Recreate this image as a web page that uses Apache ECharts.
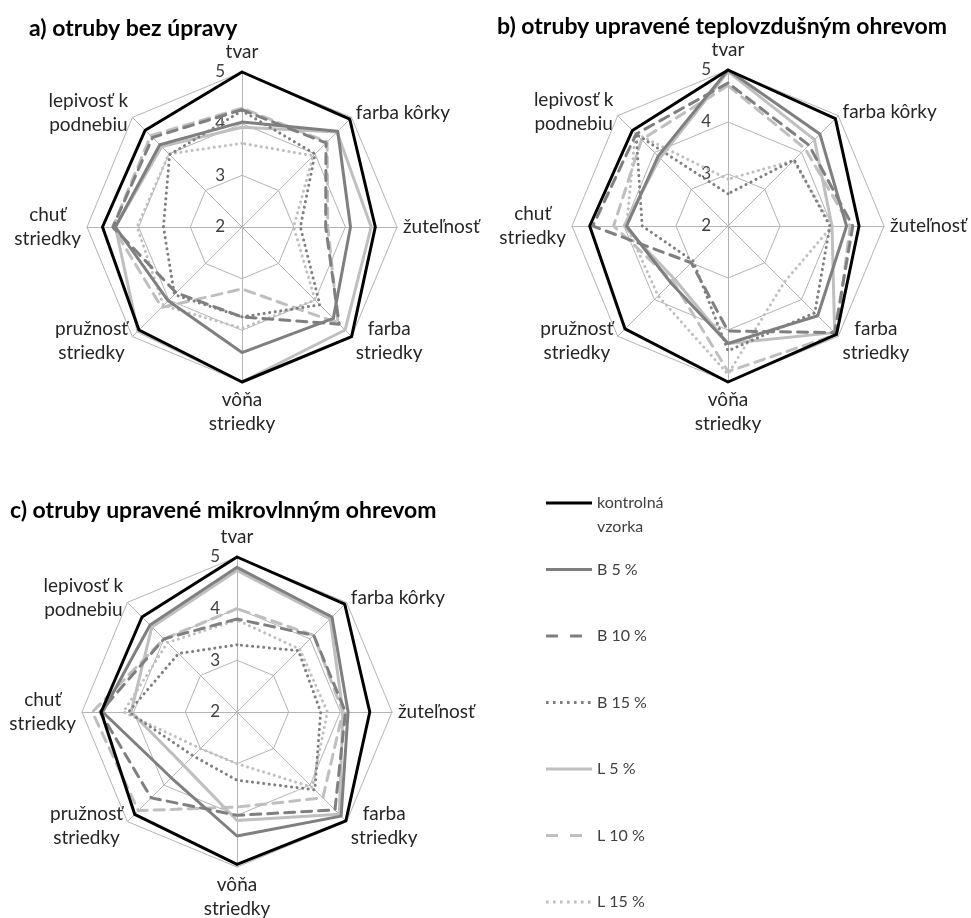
<!DOCTYPE html>
<html>
<head>
<meta charset="utf-8">
<script src="https://cdn.jsdelivr.net/npm/echarts@6/dist/echarts.min.js"></script>
<style>html,body{margin:0;padding:0;background:#fff}#chart{width:971px;height:918px}</style>
</head>
<body>
<div id="chart"></div>
<script>
// Axes, clockwise from the top
const categories = ['tvar', 'farba kôrky', 'žuteľnosť', 'farba\nstriedky', 'vôňa\nstriedky', 'pružnosť\nstriedky', 'chuť\nstriedky', 'lepivosť k\npodnebiu'];
const seriesNames = ['kontrolná vzorka', 'B 5 %', 'B 10 %', 'B 15 %', 'L 5 %', 'L 10 %', 'L 15 %'];
const axisTickLabels = [2, 3, 4, 5];
const panelTitles = ['a) otruby bez úpravy', 'b) otruby upravené teplovzdušným ohrevom', 'c) otruby upravené mikrovlnným ohrevom'];

// a) otruby bez úpravy
const aKontrolna = [5.0, 4.95, 4.58, 5.0, 5.0, 4.82, 4.7, 4.65];
const aB5  = [4.03, 4.62, 4.1, 4.5, 4.43, 4.02, 4.45, 4.25];
const aB10 = [4.27, 4.3, 3.62, 4.66, 3.74, 3.8, 4.5, 4.45];
const aB15 = [4.25, 4.0, 3.13, 4.13, 3.74, 3.85, 3.52, 3.98];
const aL5  = [3.93, 4.6, 4.5, 4.82, 5.0, 4.85, 4.45, 4.2];
const aL10 = [4.3, 4.33, 3.66, 4.63, 3.2, 4.2, 4.5, 4.5];
const aL15 = [3.62, 3.95, 3.0, 4.0, 3.96, 4.15, 4.03, 4.0];

// b) otruby upravené teplovzdušným ohrevom
const bKontrolna = [5.0, 4.92, 4.52, 4.95, 5.0, 4.8, 4.66, 4.6];
const bB5  = [5.0, 4.5, 4.28, 4.44, 4.26, 3.55, 3.95, 3.9];
const bB10 = [4.75, 4.2, 4.4, 4.9, 4.02, 3.0, 4.6, 4.5];
const bB15 = [2.62, 3.8, 3.96, 4.36, 4.4, 2.95, 3.65, 4.5];
const bL5  = [4.97, 4.35, 4.0, 4.9, 4.26, 3.45, 4.0, 3.85];
const bL10 = [4.7, 4.1, 4.35, 4.95, 4.8, 3.5, 4.2, 4.35];
const bL15 = [2.9, 3.78, 4.0, 3.53, 4.85, 3.9, 3.95, 4.52];

// c) otruby upravené mikrovlnným ohrevom
const cKontrolna = [5.0, 4.95, 4.57, 4.98, 4.95, 4.8, 4.63, 4.6];
const cB5  = [4.8, 4.6, 4.15, 4.85, 4.4, 3.8, 4.6, 4.38];
const cB10 = [3.8, 4.1, 4.1, 4.68, 4.0, 4.35, 4.65, 4.0];
const cB15 = [3.3, 3.68, 3.62, 4.13, 3.32, 3.2, 4.1, 3.6];
const cL5  = [4.74, 4.55, 4.05, 4.8, 4.1, 3.46, 4.05, 4.33];
const cL10 = [4.0, 4.1, 4.05, 4.35, 3.84, 4.7, 4.8, 4.0];
const cL15 = [3.78, 3.72, 3.75, 4.06, 3.0, 3.0, 4.2, 3.9];

const panels = [
  [aKontrolna, aB5, aB10, aB15, aL5, aL10, aL15],
  [bKontrolna, bB5, bB10, bB15, bL5, bL10, bL15],
  [cKontrolna, cB5, cB10, cB15, cL5, cL10, cL15]
];

// styling
const DARK = '#7f7f7f', LIGHT = '#bfbfbf';
const lineColors = ['#000000', DARK, DARK, DARK, LIGHT, LIGHT, LIGHT];
const lineTypes = ['solid', 'solid', [10, 7], [0.1, 5.5], 'solid', [10, 7], [0.1, 5.5]];
const FONT = 'Lato';
const TEXT = '#262626';

// ECharts lays indicators counter-clockwise: reorder clockwise data
const ccwOrder = [0, 7, 6, 5, 4, 3, 2, 1];
const reorder = arr => ccwOrder.map(i => arr[i]);

const centers = [[242, 227], [728, 226], [237, 712]];
const radii = [155, 156, 155];

function radarCfg(p) {
  return {
    center: centers[p],
    radius: radii[p],
    startAngle: 90,
    shape: 'polygon',
    splitNumber: axisTickLabels.length - 1,
    indicator: ccwOrder.map(i => ({
      name: categories[i],
      min: axisTickLabels[0],
      max: axisTickLabels[axisTickLabels.length - 1],
      axisLabel: { show: i === 0 }
    })),
    nameGap: 6,
    axisName: {
      color: TEXT,
      fontFamily: FONT,
      fontSize: 19,
      lineHeight: 24,
      formatter: n => n.split('\n').map(s => '{c|' + s + '}').join('\n'),
      rich: { c: { align: 'center', color: TEXT, fontFamily: FONT, fontSize: 19, lineHeight: 24 } }
    },
    axisLine: { lineStyle: { color: '#b4b4b4', width: 1 } },
    splitLine: { lineStyle: { color: '#b4b4b4', width: 1 } },
    splitArea: { show: false },
    axisTick: { show: false },
    axisLabel: { show: false, color: '#404040', fontFamily: FONT, fontSize: 17, margin: 17 }
  };
}

const seriesList = panels.map((vals, p) => ({
  type: 'radar',
  radarIndex: p,
  symbol: 'none',
  silent: true,
  emphasis: { disabled: true },
  z: 3,
  data: seriesNames.map((n, i) => ({
    name: n,
    value: reorder(vals[i]),
    lineStyle: { color: lineColors[i], width: 3, type: lineTypes[i], cap: 'round' },
    itemStyle: { color: lineColors[i] }
  })).reverse()
}));

const dotPath = [0, 7, 14, 21, 28, 35, 42].map(x => 'M' + x + ',0h2.6v3h-2.6z').join(' ') + ' M46,0h0.01v3h-0.01z';
const dashPath = 'M0,0h12v3h-12z M24,0h12v3h-12z M46,0h0.01v3h-0.01z';
const legendIcons = [
  'path://M0,0h46v3h-46z',
  'path://M0,0h46v3h-46z',
  'path://' + dashPath,
  'path://' + dotPath,
  'path://M0,0h46v3h-46z',
  'path://' + dashPath,
  'path://' + dotPath
];

const option = {
  animation: false,
  backgroundColor: '#ffffff',
  title: panelTitles.map((t, p) => ({
    text: t,
    left: [29, 497, 10][p],
    top: [17, 15, 499][p],
    padding: 0,
    textStyle: { fontFamily: FONT, fontWeight: 'bold', fontSize: 23, color: '#000' }
  })),
  legend: {
    orient: 'vertical',
    left: 546,
    top: 467,
    height: 520,
    padding: 0,
    itemWidth: 46,
    itemHeight: 3,
    itemGap: -5.5,
    selectedMode: false,
    // three-line labels keep the text's first line level with the icon
    formatter: n => n === 'kontrolná vzorka' ? ' \nkontrolná\nvzorka' : ' \n' + n + '\n ',
    textStyle: { color: '#404040', fontFamily: FONT, fontSize: 16, lineHeight: 24 },
    data: seriesNames.map((n, i) => ({
      name: n,
      icon: legendIcons[i],
      itemStyle: { color: lineColors[i], borderWidth: 0 }
    }))
  },
  radar: [0, 1, 2].map(radarCfg),
  series: seriesList
};

const chart = echarts.init(document.getElementById('chart'), null, { renderer: 'canvas' });
chart.setOption(option);
</script>
</body>
</html>
